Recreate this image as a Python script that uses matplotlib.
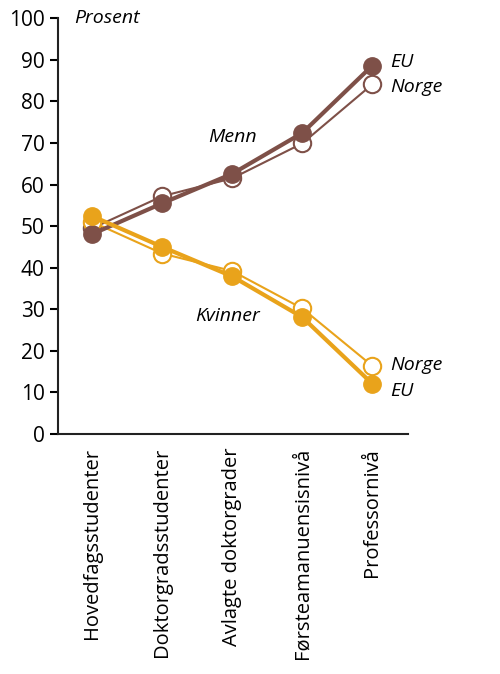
import matplotlib
matplotlib.use("Agg")
import matplotlib.pyplot as plt

plt.rcParams['font.family'] = ['Open Sans', 'DejaVu Sans']

categories = ["Hovedfagsstudenter", "Doktorgradsstudenter", "Avlagte doktorgrader",
              "Førsteamanuensisnivå", "Professornivå"]
menn_eu = [48.1, 55.5, 62.6, 72.4, 88.6]
menn_norge = [49.5, 57.2, 61.5, 69.9, 84.1]
kvinner_eu = [52.4, 45.0, 37.9, 28.1, 12.1]
kvinner_norge = [51.0, 43.4, 39.2, 30.2, 16.4]

brown = "#7e5048"
orange = "#e9a31b"

fig = plt.figure(figsize=(5, 6.74), dpi=100)
ax = fig.add_axes([0.116, 0.356, 0.700, 0.617])
x = range(len(categories))

# Norge: thin line, open markers; EU: thick line, filled markers
ax.plot(x, menn_norge, color=brown, lw=1.5, marker="o", ms=12.5,
        mfc="white", mec=brown, mew=1.5, zorder=3)
ax.plot(x, menn_eu, color=brown, lw=3, marker="o", ms=12.5,
        mfc=brown, mec=brown, zorder=4)
ax.plot(x, kvinner_norge, color=orange, lw=1.5, marker="o", ms=12.5,
        mfc="white", mec=orange, mew=1.5, zorder=3)
ax.plot(x, kvinner_eu, color=orange, lw=3, marker="o", ms=12.5,
        mfc=orange, mec=orange, zorder=4)

ax.set_xlim(-0.49, 4.51)
ax.set_ylim(0, 100)
ax.set_yticks(range(0, 101, 10))
ax.set_xticks(list(x))
ax.set_xticklabels(categories, rotation=90, fontsize=14.5, va="top")
ax.tick_params(axis="x", length=0, pad=10)
ax.tick_params(axis="y", labelsize=15, length=6, width=1.5, direction="out")
for s in ["top", "right"]:
    ax.spines[s].set_visible(False)
for s in ["left", "bottom"]:
    ax.spines[s].set_linewidth(1.5)
    ax.spines[s].set_color("#222222")

fs = 14
ax.text(0.046, 1.0, "Prosent", transform=ax.transAxes, style="italic",
        fontsize=fs, va="center", ha="left")
ax.text(2.0, 71.5, "Menn", style="italic", fontsize=fs, ha="center", va="center")
ax.text(1.93, 28.5, "Kvinner", style="italic", fontsize=fs, ha="center", va="center")
ax.text(4.25, 89.5, "EU", style="italic", fontsize=fs, ha="left", va="center")
ax.text(4.25, 83.4, "Norge", style="italic", fontsize=fs, ha="left", va="center")
ax.text(4.25, 16.6, "Norge", style="italic", fontsize=fs, ha="left", va="center")
ax.text(4.25, 10.4, "EU", style="italic", fontsize=fs, ha="left", va="center")

fig.savefig("out.png", dpi=100)
